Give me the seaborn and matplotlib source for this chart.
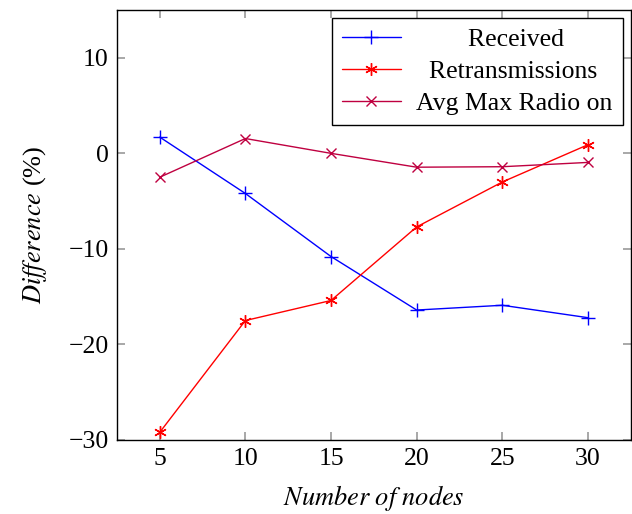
import matplotlib
matplotlib.use("Agg")
import matplotlib.pyplot as plt
import seaborn as sns
import pandas as pd

nodes = [5, 10, 15, 20, 25, 30]
received = [1.7, -4.2, -10.8, -16.4, -15.9, -17.2]
retransmissions = [-29.2, -17.5, -15.4, -7.7, -3.0, 0.9]
avg_max_radio = [-2.5, 1.55, 0.0, -1.45, -1.4, -0.95]
series_names = ["Received", "Retransmissions", "Avg Max Radio on"]
colors = ["#0000FF", "#FF0000", "#BF0040"]
markers = ["+", (6, 2, 0), "x"]
msizes = [10, 9, 7]

sns.set_style("ticks")
plt.rcParams["font.family"] = ["Liberation Serif", "DejaVu Serif"]
plt.rcParams["mathtext.fontset"] = "stix"
plt.rcParams["text.color"] = "black"
plt.rcParams["axes.labelcolor"] = "black"

fig = plt.figure(figsize=(6.32, 5.14), dpi=100)
ax = fig.add_axes([0.185, 0.144, 0.813, 0.8365])

for name, vals, c, m, ms in zip(series_names, [received, retransmissions, avg_max_radio], colors, markers, msizes):
    df = pd.DataFrame({"x": nodes, "y": vals})
    sns.lineplot(data=df, x="x", y="y", ax=ax, color=c, marker=m, markersize=ms,
                 markeredgecolor=c, markeredgewidth=1.0, linewidth=1.0, label=name)

ax.set_xlim(2.5, 32.5)
ax.set_ylim(-30, 15)
ax.set_xticks(nodes)
ax.set_yticks([-30, -20, -10, 0, 10])
ax.set_yticklabels(["\u221230", "\u221220", "\u221210", "0", "10"])
ax.tick_params(direction="in", length=6, top=True, right=True, labelsize=18.5,
               width=1.2, pad=6, color="#9a9a9a", labelcolor="black")
for s in ax.spines.values():
    s.set_linewidth(1.0)
    s.set_color("black")
ax.set_xlabel(r"$Number\ of\ nodes$", fontsize=19, labelpad=9)
ax.set_ylabel(r"$Difference$ (%)", fontsize=19, labelpad=14)

# centre legend labels (pgfplots style) by padding with leading spaces
from matplotlib.textpath import TextPath
from matplotlib.font_manager import FontProperties
fp = FontProperties(family="Liberation Serif", size=18.5)
def tw(s):
    return TextPath((0, 0), s, prop=fp).get_extents().width if s.strip() else 0
space_w = tw("a a") - tw("aa")
maxw = max(tw(s) for s in series_names)
handles, labels = ax.get_legend_handles_labels()
new_labels = [" " * int(round((maxw - tw(s)) / 2 / space_w)) + s for s in labels]

leg = ax.legend(handles, new_labels, loc="upper right", fontsize=18.5, frameon=True,
                fancybox=False, edgecolor="black", framealpha=1, borderpad=0.4,
                handlelength=2.3, labelspacing=0.35, borderaxespad=0.3,
                handletextpad=0.6)
leg.get_frame().set_linewidth(1.0)

fig.savefig("out.png", dpi=100)
